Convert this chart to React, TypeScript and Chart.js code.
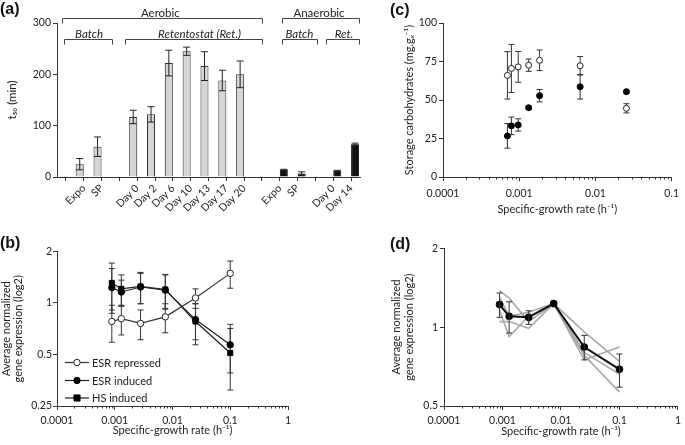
import React, { useEffect, useRef } from "react";
import { Chart, registerables } from "chart.js";

Chart.register(...registerables);

const FONT = "Lato, 'Open Sans', 'DejaVu Sans', sans-serif";
const INK = "#222";
const AXIS = "#333";

/* ---------------- Panel (a) ---------------- */
const aCategories = ["", "Expo", "SP", "", "Day 0", "Day 2", "Day 6", "Day 10", "Day 13", "Day 17", "Day 20", "", "Expo", "SP", "", "Day 0", "Day 14"];
const aAerobicT50 = [null, 25, 59, null, 117, 122, 222, 245, 216, 188, 200, null, null, null, null, null, null];
const aAerobicErr = [null, 11, 19, null, 13, 15, 25, 8, 28, 20, 26, null, null, null, null, null, null];
const aAnaerobicT50 = [null, null, null, null, null, null, null, null, null, null, null, null, 14, 7, null, 12, 64];
const aAnaerobicErr = [null, null, null, null, null, null, null, null, null, null, null, null, 1, 3, null, 1, 2];
const aYTicks = [0, 100, 200, 300];
const aGroupLabels = ["Aerobic", "Batch", "Retentostat (Ret.)", "Anaerobic", "Batch", "Ret."];
const aGroupFrom = [-0.21, -0.13, 3.29, 12.15, 12.15, 14.6];
const aGroupTo = [10.99, 2.56, 10.99, 16.45, 14.1, 16.45];
const aGroupTextAt = [5.3, 1.3, 7.5, 14.2, 13.1, 15.6];
const aGroupTier = [0, 1, 1, 0, 1, 1];
const aGroupItalic = [false, true, true, false, true, true];

/* ---------------- Panel (b) ---------------- */
const bGrowthRate = [0.00089, 0.0013, 0.0028, 0.0075, 0.025, 0.1];
const bSeriesNames = ["ESR repressed", "ESR induced", "HS induced"];
const bEsrRepressed = [0.78, 0.81, 0.76, 0.83, 1.07, 1.49];
const bEsrRepressedErr = [0.19, 0.16, 0.15, 0.16, 0.14, 0.27];
const bEsrInduced = [1.23, 1.16, 1.24, 1.19, 0.8, 0.57];
const bEsrInducedErr = [0.36, 0.2, 0.25, 0.27, 0.19, 0.18];
const bHsInduced = [1.31, 1.21, 1.25, 1.2, 0.78, 0.51];
const bHsInducedErr = [0.4, 0.25, 0.26, 0.27, 0.21, 0.2];
const bYTicks = [0.25, 0.5, 1, 2];
const bYTickLabels = ["0.25", "0.5", "1", "2"];

/* ---------------- Panel (c) ---------------- */
const cGrowthRate = [0.0007, 0.00079, 0.00097, 0.00133, 0.00185, 0.0063, 0.0255];
const cOpen = [66, 70.5, 71.5, 72.6, 75.8, 72.2, 44.6];
const cOpenErr = [15.4, 15.6, 10, 4, 6.7, 6, 3];
const cFilled = [26.7, 33.2, 33.8, 45, 52.8, 58.6, 55.4];
const cFilledErr = [8, 5.7, 4, 1, 4, 8, 0.8];
const cYTicks = [0, 25, 50, 75, 100];

/* ---------------- Panel (d) ---------------- */
const dGrowthRate = [0.00089, 0.0013, 0.0028, 0.0075, 0.025, 0.1];
const dMean = [1.22, 1.1, 1.09, 1.23, 0.84, 0.69];
const dMeanErr = [0.13, 0.15, 0.065, 0, 0.09, 0.1];
const dGroup1 = [1.38, 1.29, 1.05, 1.23, 0.96, 0.74];
const dGroup2 = [1.3, 1.1, 1.14, 1.23, 0.75, 0.84];
const dGroup3 = [1.16, 0.92, 1.1, 1.23, 0.8, 0.66];
const dGroup4 = [1.05, 1.05, 0.99, 1.23, 0.78, 0.565];
const dYTicks = [0.5, 1, 2];
const dYTickLabels = ["0.5", "1", "2"];

/* shared log x ticks */
const logXTicks = [0.0001, 0.001, 0.01, 0.1, 1];
const logXTickLabels = ["0.0001", "0.001", "0.01", "0.1", "1"];

const xTitle = "Specific-growth rate (h\u207B\u00B9)";
const exprTitle = ["Average normalized", "gene expression (log2)"];

/* ---------------- plugins ---------------- */
function drawErrorBars(chart: any, opts: any) {
  const { ctx } = chart;
  const yScale = chart.scales.y;
  chart.data.datasets.forEach((ds: any, di: number) => {
    if (!ds.errors) return;
    const meta = chart.getDatasetMeta(di);
    ds.errors.forEach((e: number | null, i: number) => {
      if (e == null || e <= 0) return;
      const el = meta.data[i];
      if (!el) return;
      const raw = ds.data[i];
      const v = raw != null && typeof raw === "object" ? raw.y : raw;
      if (v == null) return;
      const x = el.x;
      const yT = yScale.getPixelForValue(v + e);
      const yB = yScale.getPixelForValue(v - e);
      const cap = opts.cap ?? 3;
      ctx.save();
      ctx.strokeStyle = opts.color ?? "#333";
      ctx.lineWidth = opts.width ?? 1;
      ctx.beginPath();
      ctx.moveTo(x, yT);
      ctx.lineTo(x, yB);
      ctx.moveTo(x - cap, yT);
      ctx.lineTo(x + cap, yT);
      ctx.moveTo(x - cap, yB);
      ctx.lineTo(x + cap, yB);
      ctx.stroke();
      ctx.restore();
    });
  });
}

const errorBarPlugin = {
  id: "errorBars",
  beforeDatasetsDraw(chart: any, _a: any, opts: any) {
    if (opts.layer === "before") drawErrorBars(chart, opts);
  },
  afterDatasetsDraw(chart: any, _a: any, opts: any) {
    if (opts.layer !== "before") drawErrorBars(chart, opts);
  },
};

const minorTickPlugin = {
  id: "minorTicks",
  afterDraw(chart: any, _a: any, opts: any) {
    const scale = chart.scales.x;
    if (!scale || scale.type !== "logarithmic") return;
    const { ctx } = chart;
    ctx.save();
    ctx.strokeStyle = AXIS;
    ctx.lineWidth = 1;
    ctx.beginPath();
    const e0 = Math.floor(Math.log10(scale.min));
    const e1 = Math.ceil(Math.log10(scale.max));
    for (let e = e0; e <= e1; e++) {
      for (let k = 2; k <= 9; k++) {
        const v = k * Math.pow(10, e);
        if (v <= scale.min || v >= scale.max) continue;
        const px = Math.round(scale.getPixelForValue(v)) + 0.5;
        ctx.moveTo(px, scale.top);
        ctx.lineTo(px, scale.top + (opts.length ?? 2.5));
      }
    }
    ctx.stroke();
    ctx.restore();
  },
};

const bracketPlugin = {
  id: "brackets",
  afterDraw(chart: any) {
    const { ctx, chartArea } = chart;
    const x = chart.scales.x;
    ctx.save();
    ctx.strokeStyle = "#444";
    ctx.fillStyle = INK;
    ctx.lineWidth = 1;
    ctx.textAlign = "center";
    ctx.textBaseline = "alphabetic";
    aGroupLabels.forEach((label, i) => {
      const x0 = Math.round(x.getPixelForValue(aGroupFrom[i])) + 0.5;
      const x1 = Math.round(x.getPixelForValue(aGroupTo[i])) + 0.5;
      const y = Math.round(chartArea.top + (aGroupTier[i] === 0 ? -5 : 16)) + 0.5;
      ctx.beginPath();
      ctx.moveTo(x0, y + 5);
      ctx.lineTo(x0, y);
      ctx.lineTo(x1, y);
      ctx.lineTo(x1, y + 5);
      ctx.stroke();
      ctx.font = `${aGroupItalic[i] ? "italic " : ""}11.5px ${FONT}`;
      ctx.fillText(label, x.getPixelForValue(aGroupTextAt[i]), y - 2);
    });
    ctx.restore();
  },
};

const insideLegendPlugin = {
  id: "insideLegend",
  afterDraw(chart: any) {
    const { ctx, chartArea } = chart;
    const rows = [43.5, 25.5, 8];
    ctx.save();
    ctx.font = `11px ${FONT}`;
    ctx.textBaseline = "middle";
    ctx.textAlign = "left";
    chart.data.datasets.forEach((ds: any, i: number) => {
      const y = chartArea.bottom - rows[i];
      const x0 = chartArea.left + 8;
      const len = 24;
      ctx.strokeStyle = ds.borderColor;
      ctx.lineWidth = 1.2;
      ctx.beginPath();
      ctx.moveTo(x0, y);
      ctx.lineTo(x0 + len, y);
      ctx.stroke();
      const cx = x0 + len / 2;
      const r = ds.pointRadius;
      ctx.fillStyle = ds.pointBackgroundColor;
      ctx.strokeStyle = ds.pointBorderColor;
      ctx.lineWidth = 1;
      ctx.beginPath();
      if (ds.pointStyle === "rect") ctx.rect(cx - r * 0.85, y - r * 0.85, r * 1.7, r * 1.7);
      else ctx.arc(cx, y, r, 0, Math.PI * 2);
      ctx.fill();
      ctx.stroke();
      ctx.fillStyle = INK;
      ctx.fillText(ds.label, x0 + len + 3, y + 0.5);
    });
    ctx.restore();
  },
};

/* ---------------- helpers ---------------- */
type Geo = { W: number; H: number; L: number; T: number; R: number; B: number; xH: number };

function padding(g: Geo) {
  return { left: 0, top: g.T, right: g.W - g.R, bottom: g.H - g.B - g.xH };
}

function fixedTicks(values: number[], labels: string[]) {
  return {
    afterBuildTicks: (scale: any) => {
      scale.ticks = values.map((v) => ({ value: v }));
    },
    callback: (v: number) => {
      const i = values.findIndex((t) => Math.abs(t - v) <= Math.abs(t) * 1e-6 + 1e-12);
      return i >= 0 ? labels[i] : "";
    },
  };
}

function axisBase() {
  return {
    grid: { display: true, drawOnChartArea: false, drawTicks: true, tickLength: 4, color: AXIS, lineWidth: 1 },
    border: { display: true, color: AXIS, width: 1 },
  };
}

function logX(g: Geo, min: number, max: number, labelPad: number, titlePad: number) {
  const vals = logXTicks.filter((v) => v >= min * 0.999 && v <= max * 1.001);
  const labs = vals.map((v) => logXTickLabels[logXTicks.indexOf(v)]);
  const ft = fixedTicks(vals, labs);
  return {
    type: "logarithmic",
    min,
    max,
    ...axisBase(),
    afterBuildTicks: ft.afterBuildTicks,
    afterFit: (s: any) => {
      s.height = g.xH;
    },
    ticks: { autoSkip: false, maxRotation: 0, color: INK, font: { family: FONT, size: 10.5 }, padding: labelPad, callback: ft.callback },
    title: { display: true, text: xTitle, color: INK, font: { family: FONT, size: 11 }, padding: { top: 0, bottom: titlePad } },
  };
}

function ChartBox(props: { left: number; top: number; width: number; height: number; make: () => any }) {
  const ref = useRef<HTMLCanvasElement>(null);
  useEffect(() => {
    const chart = new Chart(ref.current as HTMLCanvasElement, props.make());
    return () => chart.destroy();
  }, []);
  return (
    <canvas
      ref={ref}
      width={props.width}
      height={props.height}
      style={{ position: "absolute", left: props.left, top: props.top, width: props.width, height: props.height }}
    />
  );
}

/* ---------------- configs ---------------- */
const geoA: Geo = { W: 368, H: 230, L: 57, T: 23, R: 360, B: 177, xH: 50 };
const geoB: Geo = { W: 365, H: 220, L: 57, T: 26.5, R: 288, B: 181, xH: 36 };
const geoC: Geo = { W: 320, H: 230, L: 78, T: 23, R: 310, B: 177, xH: 45 };
const geoD: Geo = { W: 320, H: 220, L: 79, T: 23.3, R: 315, B: 181, xH: 36 };

function makeA() {
  const g = geoA;
  const yt = fixedTicks(aYTicks, aYTicks.map(String));
  return {
    type: "bar",
    data: {
      labels: aCategories,
      datasets: [
        { label: "Aerobic", data: aAerobicT50, errors: aAerobicErr, backgroundColor: "#d5d5d5", borderColor: "#333", borderWidth: 1 },
        { label: "Anaerobic", data: aAnaerobicT50, errors: aAnaerobicErr, backgroundColor: "#111", borderColor: "#111", borderWidth: 1 },
      ],
    },
    options: {
      responsive: false,
      animation: false,
      events: [],
      layout: { padding: padding(g) },
      datasets: { bar: { categoryPercentage: 0.9, barPercentage: 1 } },
      scales: {
        x: {
          type: "category",
          offset: true,
          ...axisBase(),
          grid: { display: true, drawOnChartArea: false, drawTicks: true, tickLength: 4, color: AXIS, offset: false },
          afterFit: (s: any) => {
            s.height = g.xH;
          },
          ticks: { autoSkip: false, minRotation: 45, maxRotation: 45, color: INK, font: { family: FONT, size: 10.5 }, padding: 1 },
        },
        y: {
          type: "linear",
          min: 0,
          max: 300,
          ...axisBase(),
          afterBuildTicks: yt.afterBuildTicks,
          afterFit: (s: any) => {
            s.width = g.L;
          },
          ticks: { color: INK, font: { family: FONT, size: 10.5 }, padding: 2, callback: yt.callback },
          title: { display: true, text: "t\u2085\u2080 (min)", color: INK, font: { family: FONT, size: 11.5 }, padding: { top: 5.5, bottom: 0 } },
        },
      },
      plugins: {
        legend: { display: false },
        tooltip: { enabled: false },
        errorBars: { layer: "after", cap: 3.5, color: "#222", width: 1 },
      },
    },
    plugins: [errorBarPlugin, bracketPlugin],
  };
}

function pts(xs: number[], ys: number[]) {
  return xs.map((x, i) => ({ x, y: ys[i] }));
}

function makeB() {
  const g = geoB;
  const yt = fixedTicks(bYTicks, bYTickLabels);
  const common = { borderWidth: 1.2, pointBorderWidth: 1, tension: 0 };
  return {
    type: "line",
    data: {
      datasets: [
        { label: bSeriesNames[0], data: pts(bGrowthRate, bEsrRepressed), errors: bEsrRepressedErr, borderColor: "#333", pointStyle: "circle", pointRadius: 3.2, pointBackgroundColor: "#fff", pointBorderColor: "#222", ...common },
        { label: bSeriesNames[1], data: pts(bGrowthRate, bEsrInduced), errors: bEsrInducedErr, borderColor: "#222", pointStyle: "circle", pointRadius: 3.2, pointBackgroundColor: "#000", pointBorderColor: "#000", ...common },
        { label: bSeriesNames[2], data: pts(bGrowthRate, bHsInduced), errors: bHsInducedErr, borderColor: "#222", pointStyle: "rect", pointRadius: 3.6, pointBackgroundColor: "#000", pointBorderColor: "#000", ...common },
      ],
    },
    options: {
      responsive: false,
      animation: false,
      events: [],
      layout: { padding: padding(g) },
      scales: {
        x: logX(g, 0.0001, 1, 4, 5),
        y: {
          type: "logarithmic",
          min: 0.25,
          max: 2,
          ...axisBase(),
          afterBuildTicks: yt.afterBuildTicks,
          afterFit: (s: any) => {
            s.width = g.L;
          },
          ticks: { autoSkip: false, color: INK, font: { family: FONT, size: 10.5 }, padding: 1, callback: yt.callback },
          title: { display: true, text: exprTitle, color: INK, font: { family: FONT, size: 11, lineHeight: 1.1 }, padding: { top: 0, bottom: 0 } },
        },
      },
      plugins: {
        legend: { display: false },
        tooltip: { enabled: false },
        errorBars: { layer: "before", cap: 3, color: "#333", width: 1 },
        minorTicks: { length: 2.5 },
      },
    },
    plugins: [errorBarPlugin, minorTickPlugin, insideLegendPlugin],
  };
}

function makeC() {
  const g = geoC;
  const yt = fixedTicks(cYTicks, cYTicks.map(String));
  return {
    type: "scatter",
    data: {
      datasets: [
        { label: "open", data: pts(cGrowthRate, cOpen), errors: cOpenErr, pointStyle: "circle", pointRadius: 3, pointBorderWidth: 1, pointBackgroundColor: "#fff", pointBorderColor: "#222", showLine: false },
        { label: "filled", data: pts(cGrowthRate, cFilled), errors: cFilledErr, pointStyle: "circle", pointRadius: 3, pointBorderWidth: 1, pointBackgroundColor: "#000", pointBorderColor: "#000", showLine: false },
      ],
    },
    options: {
      responsive: false,
      animation: false,
      events: [],
      layout: { padding: padding(g) },
      scales: {
        x: logX(g, 0.0001, 0.1, 6, 5.8),
        y: {
          type: "linear",
          min: 0,
          max: 100,
          ...axisBase(),
          afterBuildTicks: yt.afterBuildTicks,
          afterFit: (s: any) => {
            s.width = g.L;
          },
          ticks: { color: INK, font: { family: FONT, size: 10.5 }, padding: 2, callback: yt.callback },
          title: { display: true, text: "Storage carbohydrates (mg.g\u2093\u207B\u00B9)", color: INK, font: { family: FONT, size: 11 }, padding: { top: 37.4, bottom: 0 } },
        },
      },
      plugins: {
        legend: { display: false },
        tooltip: { enabled: false },
        errorBars: { layer: "before", cap: 3, color: "#333", width: 1 },
        minorTicks: { length: 2.5 },
      },
    },
    plugins: [errorBarPlugin, minorTickPlugin],
  };
}

function makeD() {
  const g = geoD;
  const yt = fixedTicks(dYTicks, dYTickLabels);
  const gray = { borderColor: "#a8a8a8", borderWidth: 1.6, pointRadius: 0, tension: 0 };
  return {
    type: "line",
    data: {
      datasets: [
        { label: "mean", data: pts(dGrowthRate, dMean), errors: dMeanErr, borderColor: "#111", borderWidth: 2, pointStyle: "circle", pointRadius: 2.8, pointBackgroundColor: "#000", pointBorderColor: "#000", tension: 0 },
        { label: "g1", data: pts(dGrowthRate, dGroup1), ...gray },
        { label: "g2", data: pts(dGrowthRate, dGroup2), ...gray },
        { label: "g3", data: pts(dGrowthRate, dGroup3), ...gray },
        { label: "g4", data: pts(dGrowthRate, dGroup4), ...gray },
      ],
    },
    options: {
      responsive: false,
      animation: false,
      events: [],
      layout: { padding: padding(g) },
      scales: {
        x: logX(g, 0.0001, 1, 4, 4.3),
        y: {
          type: "logarithmic",
          min: 0.5,
          max: 2,
          ...axisBase(),
          afterBuildTicks: yt.afterBuildTicks,
          afterFit: (s: any) => {
            s.width = g.L;
          },
          ticks: { autoSkip: false, color: INK, font: { family: FONT, size: 10.5 }, padding: 2, callback: yt.callback },
          title: { display: true, text: exprTitle, color: INK, font: { family: FONT, size: 11, lineHeight: 1.2 }, padding: { top: 25.1, bottom: 0 } },
        },
      },
      plugins: {
        legend: { display: false },
        tooltip: { enabled: false },
        errorBars: { layer: "after", cap: 3, color: "#333", width: 1 },
        minorTicks: { length: 2.5 },
      },
    },
    plugins: [errorBarPlugin, minorTickPlugin],
  };
}

const panelLabel: React.CSSProperties = {
  position: "absolute",
  font: "bold 16px 'Liberation Sans', Arial, sans-serif",
  lineHeight: "16px",
  color: "#111",
  whiteSpace: "nowrap",
};

export default function App() {
  return (
    <div style={{ position: "fixed", left: 0, top: 0, width: 685, height: 445, background: "#fff", overflow: "hidden" }}>
      <ChartBox left={0} top={0} width={geoA.W} height={geoA.H} make={makeA} />
      <ChartBox left={0} top={225} width={geoB.W} height={geoB.H} make={makeB} />
      <ChartBox left={365} top={0} width={geoC.W} height={geoC.H} make={makeC} />
      <ChartBox left={365} top={225} width={geoD.W} height={geoD.H} make={makeD} />
      <div style={{ ...panelLabel, left: 0, top: 1 }}>(a)</div>
      <div style={{ ...panelLabel, left: 0, top: 235 }}>(b)</div>
      <div style={{ ...panelLabel, left: 390, top: 1.5 }}>(c)</div>
      <div style={{ ...panelLabel, left: 390, top: 235.5 }}>(d)</div>
    </div>
  );
}
